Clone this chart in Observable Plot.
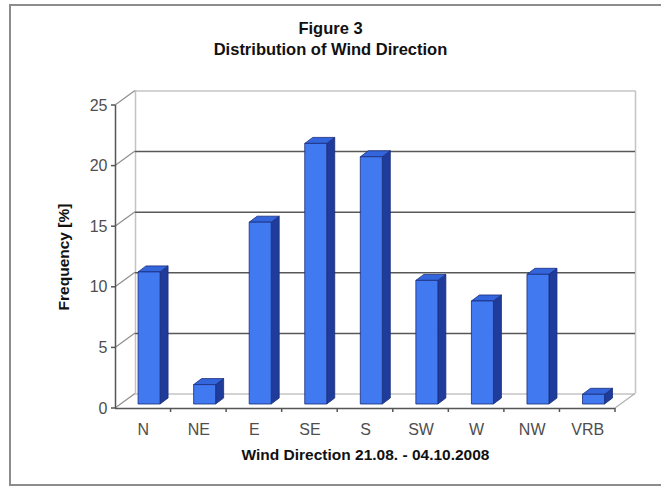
<!DOCTYPE html>
<html>
<head>
<meta charset="utf-8">
<script src="https://cdn.jsdelivr.net/npm/d3@7"></script>
<script src="https://cdn.jsdelivr.net/npm/@observablehq/plot@0.6"></script>
<style>
  body { margin: 0; background: #fff; font-family: "Liberation Sans", Arial, sans-serif; }
  #frame { position: absolute; left: 9px; top: 4px; width: 720px; height: 482px; box-sizing: border-box; border: 2px solid #8c8c8c; }
  #title { position: absolute; left: 0; top: 18px; width: 661px; text-align: center; font-weight: bold; font-size: 16.5px; line-height: 21px; color: #111; }
  #chart { position: absolute; left: 0; top: 64px; }
</style>
</head>
<body>
<div id="frame"></div>
<div id="title">Figure 3<br>Distribution of Wind Direction</div>
<div id="chart"></div>
<script>
// Wind direction frequencies (%)
const directions = ["N", "NE", "E", "SE", "S", "SW", "W", "NW", "VRB"];
const frequency = [10.9, 1.6, 15.0, 21.5, 20.4, 10.2, 8.5, 10.7, 0.8];
const yTicks = [0, 5, 10, 15, 20, 25];
const gridValues = [5, 10, 15, 20];
const xTitle = "Wind Direction 21.08. - 04.10.2008";
const yTitle = "Frequency [%]";

const rows = directions.map((dir, i) => ({dir, i, value: frequency[i]}));
const boundaries = d3.range(1, directions.length + 1);

// pseudo-3D geometry (pixels)
const DEPTH = {dx: 20, dy: -14.5};
const BAR = {half: 0.198, ox: 6.3, oy: -4, sx: 8, sy: -6};
const FRONT = "#4179f0", SIDE = "#1f3c9c", TOP = "#3365dc", EDGE = "#1b2c78";

// draws a short segment from each scaled point, offset by (dx, dy) pixels
function segments(dx, dy, stroke, width = 1) {
  return (index, scales, values) => {
    const g = d3.create("svg:g").attr("fill", "none").attr("stroke", stroke).attr("stroke-width", width);
    for (const i of index) {
      const x = values.x[i], y = values.y[i];
      g.append("path").attr("d", `M${x},${y}L${x + dx},${y + dy}`);
    }
    return g.node();
  };
}

// extruded bar: front face, side face and top face
function prism(index, scales, values) {
  const g = d3.create("svg:g").attr("stroke", EDGE).attr("stroke-width", 0.8).attr("stroke-linejoin", "round");
  const {ox, oy, sx, sy} = BAR;
  for (const i of index) {
    const l = values.x1[i] + ox, r = values.x2[i] + ox;
    const b = values.y1[i] + oy, t = values.y2[i] + oy;
    g.append("path").attr("fill", SIDE).attr("d", `M${r},${b}L${r + sx},${b + sy}L${r + sx},${t + sy}L${r},${t}Z`);
    g.append("path").attr("fill", TOP).attr("d", `M${l},${t}L${l + sx},${t + sy}L${r + sx},${t + sy}L${r},${t}Z`);
    g.append("rect").attr("fill", FRONT).attr("x", l).attr("y", t).attr("width", r - l).attr("height", b - t);
  }
  return g.node();
}

const n = directions.length;
const chart = Plot.plot({
  width: 661,
  height: 420,
  marginLeft: 115,
  marginRight: 46,
  marginTop: 41,
  marginBottom: 76,
  x: {domain: [0, n], axis: null},
  y: {domain: [0, 25], axis: null},
  style: {fontFamily: "'Liberation Sans', Arial, sans-serif", background: "transparent", overflow: "visible"},
  marks: [
    // back wall
    Plot.ruleX([0, n], {y1: 0, y2: 25, dx: DEPTH.dx, dy: DEPTH.dy, stroke: "#c4c4c4", strokeWidth: 1.5}),
    Plot.ruleY([0, 25], {x1: 0, x2: n, dx: DEPTH.dx, dy: DEPTH.dy, stroke: "#c4c4c4", strokeWidth: 1.5}),
    Plot.ruleY(gridValues, {x1: 0, x2: n, dx: DEPTH.dx, dy: DEPTH.dy, stroke: "#585858", strokeWidth: 1.5}),
    // side wall and floor edges
    Plot.dot(yTicks, {x: () => 0, y: d => d, render: segments(DEPTH.dx, DEPTH.dy, "#8e8e8e", 1.2)}),
    Plot.dot([n], {x: d => d, y: () => 0, render: segments(DEPTH.dx, DEPTH.dy, "#b0b0b0", 1.2)}),
    // front axes
    Plot.ruleX([0], {y1: 0, y2: 25, stroke: "#555", strokeWidth: 1.5}),
    Plot.ruleY([0], {x1: 0, x2: n, stroke: "#555", strokeWidth: 1.5}),
    Plot.dot(yTicks, {x: () => 0, y: d => d, render: segments(-4, 0, "#555", 1.5)}),
    Plot.dot(boundaries, {x: d => d, y: () => 0, render: segments(0, 4, "#555", 1.5)}),
    // bars
    Plot.rect(rows, {x1: d => d.i + 0.5 - BAR.half, x2: d => d.i + 0.5 + BAR.half, y1: () => 0, y2: "value", render: prism}),
    // labels
    Plot.text(yTicks, {x: () => 0, y: d => d, text: d => String(d), textAnchor: "end", dx: -8, fontSize: 16, fill: "#4e4e4e"}),
    Plot.text(rows, {x: d => d.i + 0.5, y: () => 0, text: "dir", dy: 21, fontSize: 16, fill: "#4e4e4e"}),
    Plot.text([xTitle], {x: () => n / 2, y: () => 0, text: d => d, dy: 47, fontSize: 15.5, fontWeight: "bold", fill: "#111"}),
    Plot.text([yTitle], {x: () => 0, y: () => 12.5, text: d => d, rotate: -90, dx: -51.5, fontSize: 15.5, fontWeight: "bold", fill: "#111"})
  ]
});
document.getElementById("chart").append(chart);
</script>
</body>
</html>
